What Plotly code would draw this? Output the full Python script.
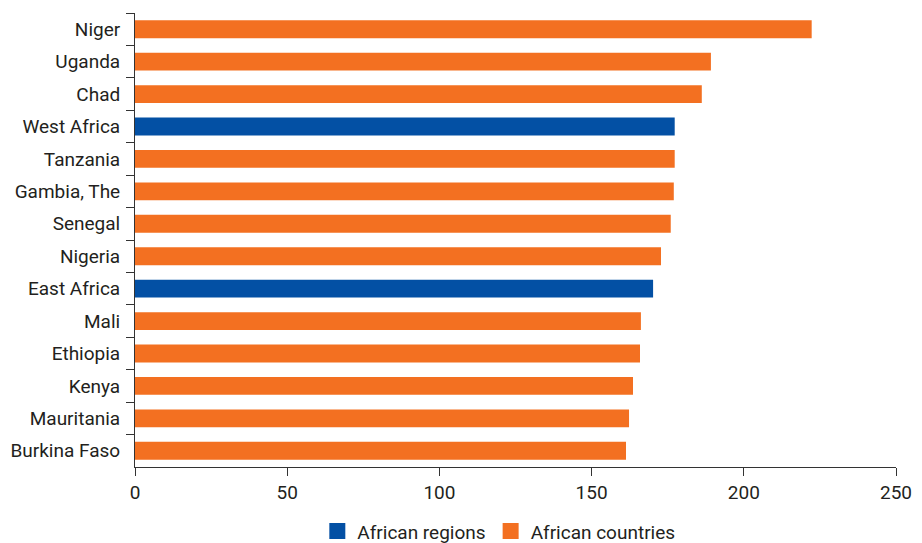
import plotly.graph_objects as go

categories = ["Niger", "Uganda", "Chad", "West Africa", "Tanzania", "Gambia, The",
              "Senegal", "Nigeria", "East Africa", "Mali", "Ethiopia", "Kenya",
              "Mauritania", "Burkina Faso"]
values = [222.3, 189.2, 186.2, 177.3, 177.3, 177.0, 176.0, 172.8, 170.2, 166.2,
          165.9, 163.6, 162.3, 161.3]
region_names = ["West Africa", "East Africa"]
x_ticks = [0, 50, 100, 150, 200, 250]
legend_names = ["African regions", "African countries"]

reg_y = [c for c in categories if c in region_names]
reg_x = [v for c, v in zip(categories, values) if c in region_names]
cty_y = [c for c in categories if c not in region_names]
cty_x = [v for c, v in zip(categories, values) if c not in region_names]

ORANGE = "#F37021"
BLUE = "#0350A4"
TXT = "#231F20"
FONT = "Roboto"

fig = go.Figure()
fig.add_trace(go.Bar(y=reg_y, x=reg_x, orientation="h", name=legend_names[0],
                     showlegend=False, legendgroup="r",
                     marker=dict(color=BLUE, line=dict(width=0))))
fig.add_trace(go.Bar(y=cty_y, x=cty_x, orientation="h", name=legend_names[1],
                     showlegend=False, legendgroup="c",
                     marker=dict(color=ORANGE, line=dict(width=0))))
# legend entries with larger square swatches
for nm, col, grp in zip(legend_names, [BLUE, ORANGE], ["r", "c"]):
    fig.add_trace(go.Scatter(x=[None], y=[None], mode="markers", name=nm, legendgroup=grp,
                             marker=dict(symbol="square", size=16, color=col,
                                         line=dict(width=0))))

# page body has an 8px margin, so the figure is sized 914x535
fig.update_layout(
    width=914, height=535,
    margin=dict(l=127, r=26, t=5, b=76),
    paper_bgcolor="white", plot_bgcolor="white",
    barmode="relative", bargap=0.45,
    font=dict(family=FONT, size=19, color=TXT),
    showlegend=True,
    legend=dict(orientation="h", x=0.537, xref="container", xanchor="center",
                y=0.022, yref="container", yanchor="middle", itemwidth=30,
                font=dict(family=FONT, size=19, color=TXT), traceorder="normal",
                bgcolor="rgba(0,0,0,0)"),
)
fig.update_xaxes(range=[0, 250], tickvals=x_ticks, showgrid=False, zeroline=False,
                 showline=True, linecolor="#333333", linewidth=1,
                 ticks="outside", ticklen=8, tickcolor="#333333", automargin=False,
                 tickfont=dict(family=FONT, size=19, color=TXT))
fig.update_yaxes(categoryorder="array", categoryarray=categories, autorange="reversed",
                 showgrid=False, zeroline=False, showline=True, linecolor="#333333",
                 linewidth=1, ticks="outside", ticklen=8, tickcolor="#333333",
                 tickson="boundaries", automargin=False, ticklabelstandoff=10,
                 tickfont=dict(family=FONT, size=19, color=TXT))

fig.write_html("out.html")
